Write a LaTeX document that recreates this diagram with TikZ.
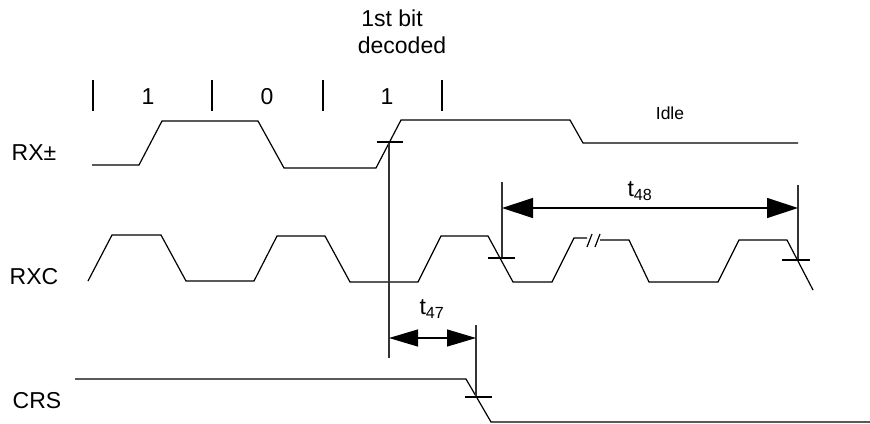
\documentclass[tikz,border=0pt]{standalone}
\usepackage{fontspec}
\setmainfont{Liberation Sans}
\usetikzlibrary{arrows.meta, positioning}

\begin{document}
\begin{tikzpicture}[
  x=1pt, y=-1pt,
  wave/.style={draw, line width=1.2pt},
  refline/.style={draw, line width=1.4pt, black!80},
  sig/.style={font=\fontsize{23}{27}\selectfont, inner sep=0pt},
  small/.style={font=\fontsize{17.5}{20}\selectfont, inner sep=0pt},
  bigdim/.style={line width=1.2pt, {Triangle[length=31pt,width=20pt]}-{Triangle[length=31pt,width=20pt]}},
  smalldim/.style={line width=1.2pt, {Triangle[length=29pt,width=17pt]}-{Triangle[length=29pt,width=17pt]}}
]
\useasboundingbox (0,0) rectangle (870,423);

\node[sig] (rxlbl) at (34,153) {RX±};
\node[sig] (rxclbl) at (34,277) {RXC};
\node[sig] (crslbl) at (37,401) {CRS};
\node[sig] (first) at (392,18) {1st bit};
\node[sig] (decoded) at (402,45) {decoded};
\node[sig] (bitA) at (148,97) {1};
\node[sig] (bitB) at (267,97) {0};
\node[sig] (bitC) at (387,97) {1};
\node[small] (idle) at (670,113) {Idle};
\foreach \x in {93,212,323,442}
  \draw[wave] (\x,80) -- (\x,111);

\draw[wave] (92,165) -- (139,165) -- (162,121) -- (258,121) -- (284,168) -- (376,168)
  -- (401,120) -- (570,120) -- (583,143) -- (798,143);
\draw[wave] (88,281) -- (112,235) -- (161,235) -- (186,281) -- (254,281) -- (277,236)
  -- (325,236) -- (350,282) -- (418,282) -- (441,236) -- (488,236) -- (513,282)
  -- (552,282) -- (574,238) -- (587,238);
\draw[wave] (587,247) -- (592,234) (595,247) -- (600,234);
\draw[wave] (600,240) -- (629,240) -- (649,282) -- (718,282) -- (739,240) -- (787,240)
  -- (813,290);
\draw[wave] (75,379) -- (466,379) -- (491,422) -- (870,422);

\coordinate (edgeA) at (389,142);
\coordinate (edgeB) at (502,258);
\coordinate (edgeC) at (798,260);
\coordinate (edgeD) at (476,397);

\draw[refline] (edgeA) -- ++(0,216);
\draw[wave] ([xshift=-12pt]edgeA) -- ([xshift=14pt]edgeA);
\draw[refline] (edgeB) -- ++(0,-76);
\draw[wave] ([xshift=-14pt]edgeB) -- ([xshift=13pt]edgeB);
\draw[refline] (edgeC) -- ++(0,-75);
\draw[wave] ([xshift=-16pt]edgeC) -- ([xshift=12pt]edgeC);
\draw[refline] (edgeD) -- ++(0,-72);
\draw[wave] ([xshift=-11pt]edgeD) -- ([xshift=16pt]edgeD);

\draw[bigdim] (edgeB |- 0,208) -- (edgeC |- 0,208);
\draw[smalldim] (edgeA |- 0,338) -- (edgeD |- 0,338);
\node[sig] (tfe) at (640,191) {t\textsubscript{48}};
\node[sig] (tfs) at (432,309) {t\textsubscript{47}};
\end{tikzpicture}
\end{document}
